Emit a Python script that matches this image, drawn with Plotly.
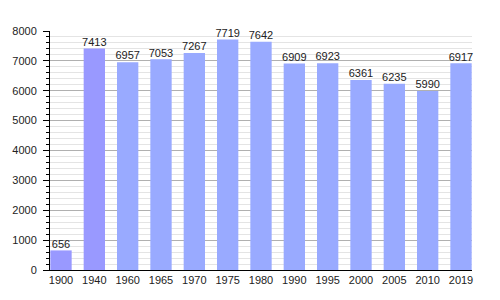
import plotly.graph_objects as go

years = ["1900", "1940", "1960", "1965", "1970", "1975", "1980", "1990", "1995", "2000", "2005", "2010", "2019"]
population = [656, 7413, 6957, 7053, 7267, 7719, 7642, 6909, 6923, 6361, 6235, 5990, 6917]
colors = ["#9999ff", "#9999ff"] + ["#99aaff"] * 11

fig = go.Figure()
fig.add_trace(go.Bar(
    x=years, y=population, marker=dict(color=colors, line=dict(width=0)),
    width=0.64, hoverinfo="x+y",
))
fig.add_trace(go.Scatter(
    x=years, y=population, mode="text", text=[str(v) for v in population],
    textposition="top center", cliponaxis=False,
    textfont=dict(family="Liberation Sans, Arial", size=11, color="#222"),
    hoverinfo="skip",
))
fig.update_layout(
    width=500, height=300, margin=dict(l=50, r=28, t=31, b=30),
    plot_bgcolor="white", paper_bgcolor="white", showlegend=False,
    font=dict(family="Liberation Sans, Arial", size=11, color="#222"),
)
fig.update_xaxes(showline=True, linecolor="black", linewidth=1, ticks="", showgrid=False,
                 range=[-0.33, len(years) - 1 + 0.33], tickfont=dict(size=11))
fig.update_yaxes(range=[0, 8000], dtick=1000, showline=True, linecolor="black", linewidth=1,
                 ticks="outside", ticklen=6, tickcolor="black", ticklabelstandoff=4,
                 showgrid=True, gridcolor="#b0b0b0", gridwidth=1, zeroline=False,
                 minor=dict(dtick=200, ticks="outside", ticklen=3, tickcolor="black",
                            showgrid=True, gridcolor="#e4e4e4", gridwidth=1),
                 tickfont=dict(size=11))
fig.write_html("out.html")
